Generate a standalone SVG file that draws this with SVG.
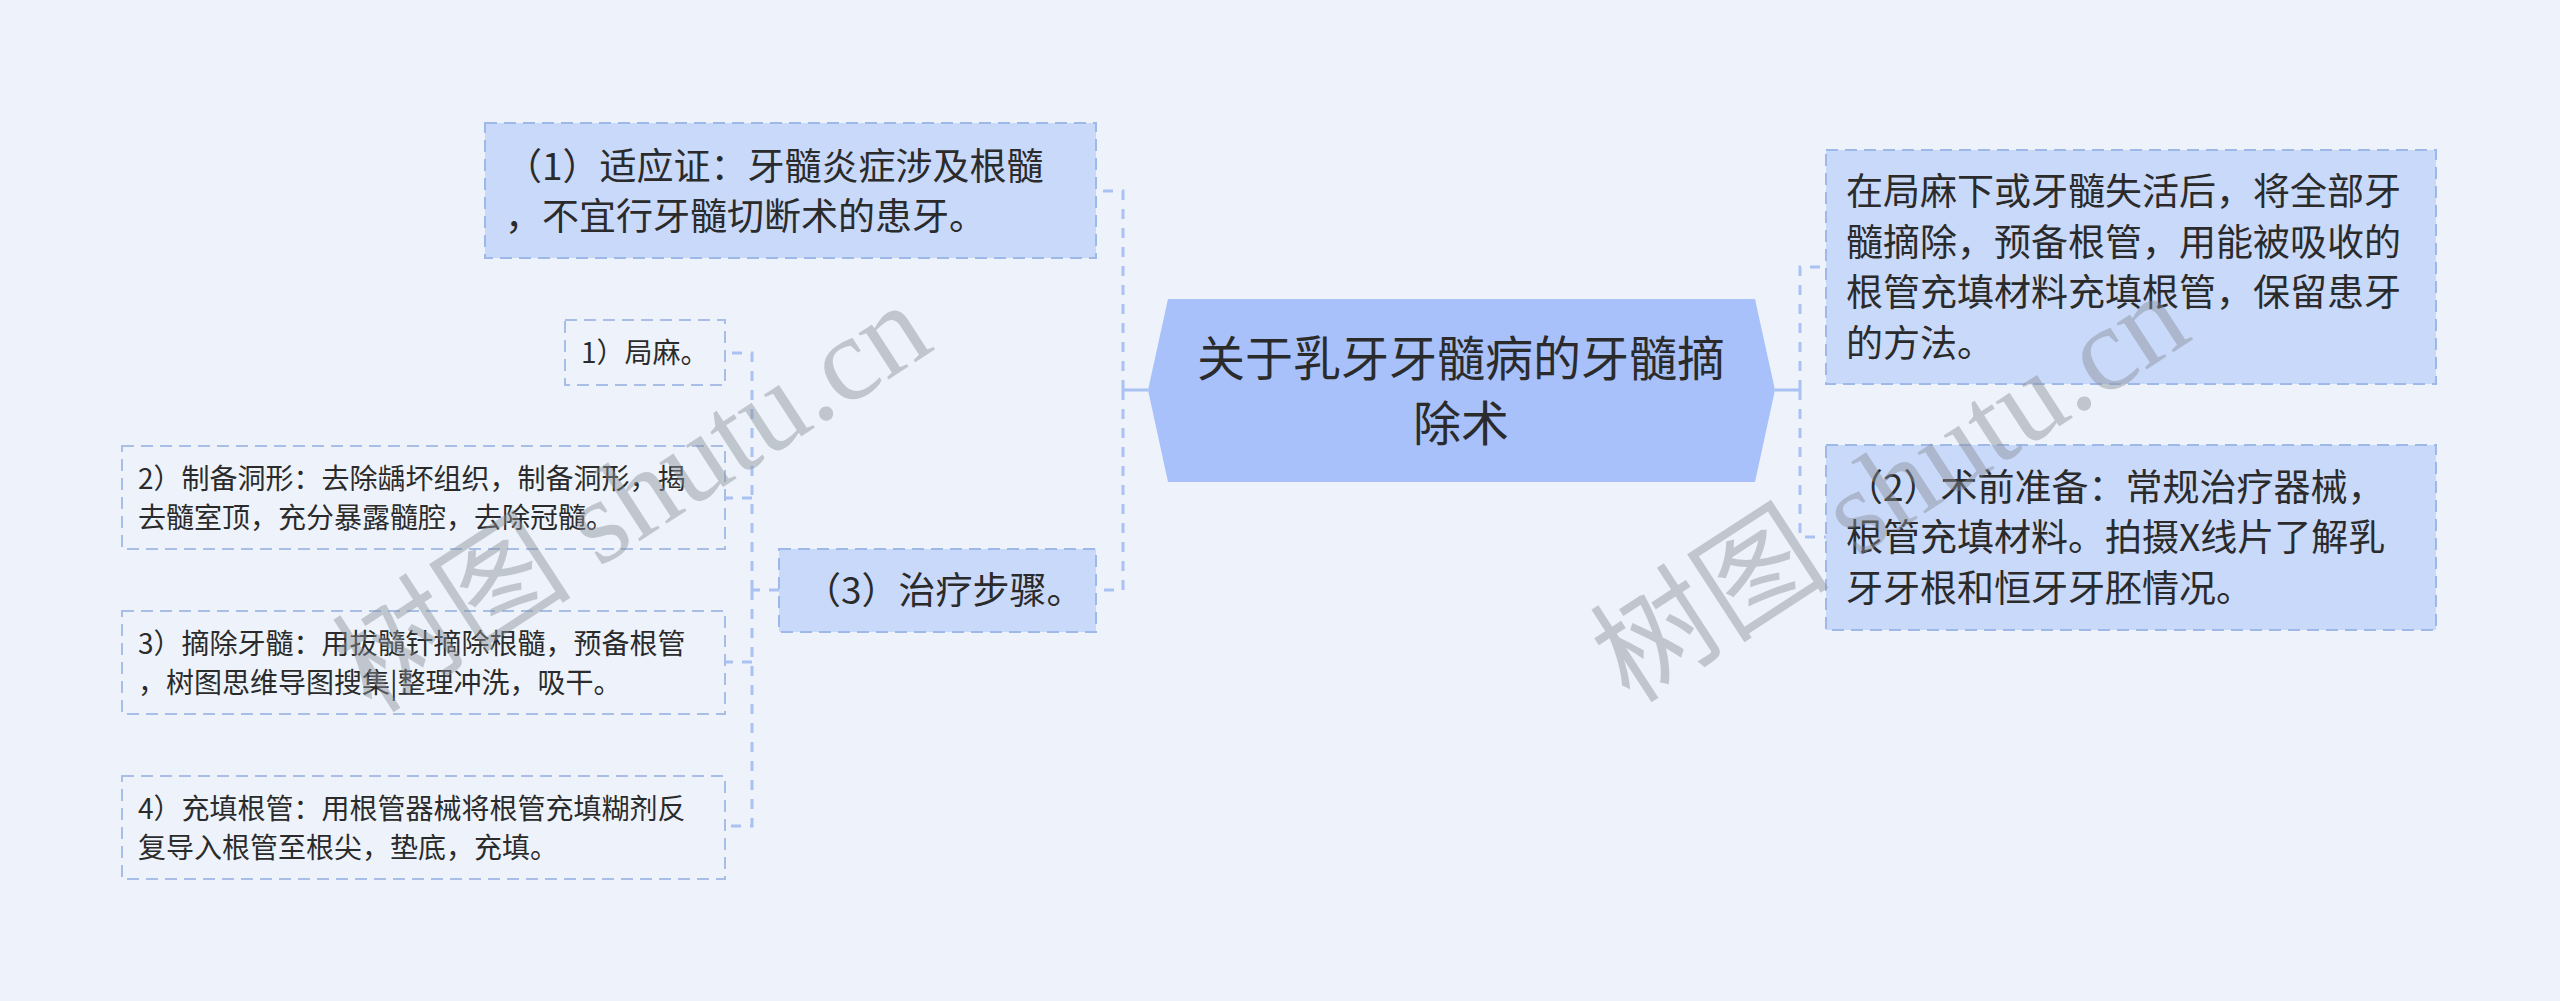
<svg xmlns="http://www.w3.org/2000/svg" width="2560" height="1001" viewBox="0 0 2560 1001">
<style>
.bg{fill:#eef3fb}
.title{fill:#a8c1fa}
.node{fill:#c9d9fa;stroke:#9fb8ea;stroke-width:2;stroke-dasharray:12 7}
.leaf{fill:none;stroke:#a9bee6;stroke-width:2;stroke-dasharray:12 7}
.conn{fill:none;stroke:#a9c1f3;stroke-width:3;stroke-dasharray:10 9}
.stub{fill:none;stroke:#a9c1f3;stroke-width:3}
text{font-family:"Noto Sans CJK SC","Microsoft YaHei",sans-serif;fill:#2b2b2b}
.t37{font-size:37px}
.t28{font-size:28px}
.t48{font-size:48px}
.wm{font-family:"Liberation Serif","Noto Sans CJK SC",serif;font-size:120px;fill:#8a9099;opacity:.45}
</style>
<rect class="bg" x="0" y="0" width="2560" height="1001"/>

<g id="connectors">
  <path class="stub" d="M1148,390 H1123"/>
  <path class="conn" d="M1123,390 V191 H1096"/>
  <path class="conn" d="M1123,390 V590 H1096"/>
  <path class="stub" d="M1775,390 H1800"/>
  <path class="conn" d="M1800,390 V267 H1826"/>
  <path class="conn" d="M1800,390 V537 H1826"/>
  <path class="conn" d="M779,590 H752"/>
  <path class="conn" d="M752,590 V353 H725"/>
  <path class="conn" d="M752,590 V826 H725"/>
  <path class="conn" d="M752,498 H725"/>
  <path class="conn" d="M752,662 H725"/>
</g>

<g id="root">
  <polygon class="title" points="1148,390 1168,299 1755,299 1775,390 1755,482 1168,482"/>
  <text class="t48" x="1461" y="376" text-anchor="middle">关于乳牙牙髓病的牙髓摘</text>
  <text class="t48" x="1461" y="441" text-anchor="middle">除术</text>
</g>

<g id="n1">
  <rect class="node" x="485" y="123" width="611" height="135"/>
  <text class="t37" x="505" y="180">（1）适应证：牙髓炎症涉及根髓</text>
  <text class="t37" x="505" y="230">，不宜行牙髓切断术的患牙。</text>
</g>

<g id="n3">
  <rect class="node" x="779" y="549" width="317" height="83"/>
  <text class="t37" x="804" y="604">（3）治疗步骤。</text>
</g>

<g id="s1">
  <rect class="leaf" x="565" y="320" width="160" height="65"/>
  <text class="t28" x="581" y="363">1）局麻。</text>
</g>
<g id="s2">
  <rect class="leaf" x="122" y="446" width="603" height="103"/>
  <text class="t28" x="138" y="489">2）制备洞形：去除龋坏组织，制备洞形，揭</text>
  <text class="t28" x="138" y="528">去髓室顶，充分暴露髓腔，去除冠髓。</text>
</g>
<g id="s3">
  <rect class="leaf" x="122" y="611" width="603" height="103"/>
  <text class="t28" x="138" y="654">3）摘除牙髓：用拔髓针摘除根髓，预备根管</text>
  <text class="t28" x="138" y="693">，树图思维导图搜集|整理冲洗，吸干。</text>
</g>
<g id="s4">
  <rect class="leaf" x="122" y="776" width="603" height="103"/>
  <text class="t28" x="138" y="819">4）充填根管：用根管器械将根管充填糊剂反</text>
  <text class="t28" x="138" y="858">复导入根管至根尖，垫底，充填。</text>
</g>

<g id="r1">
  <rect class="node" x="1826" y="150" width="610" height="234"/>
  <text class="t37" x="1846" y="205">在局麻下或牙髓失活后，将全部牙</text>
  <text class="t37" x="1846" y="256">髓摘除，预备根管，用能被吸收的</text>
  <text class="t37" x="1846" y="306">根管充填材料充填根管，保留患牙</text>
  <text class="t37" x="1846" y="357">的方法。</text>
</g>

<g id="r2">
  <rect class="node" x="1826" y="445" width="610" height="185"/>
  <text class="t37" x="1846" y="501">（2）术前准备：常规治疗器械，</text>
  <text class="t37" x="1846" y="551">根管充填材料。拍摄X线片了解乳</text>
  <text class="t37" x="1846" y="602">牙牙根和恒牙牙胚情况。</text>
</g>

<text class="wm" transform="translate(372,715) rotate(-33)">树图 shutu.cn</text>
<text class="wm" transform="translate(1630,705) rotate(-33)">树图 shutu.cn</text>
</svg>
